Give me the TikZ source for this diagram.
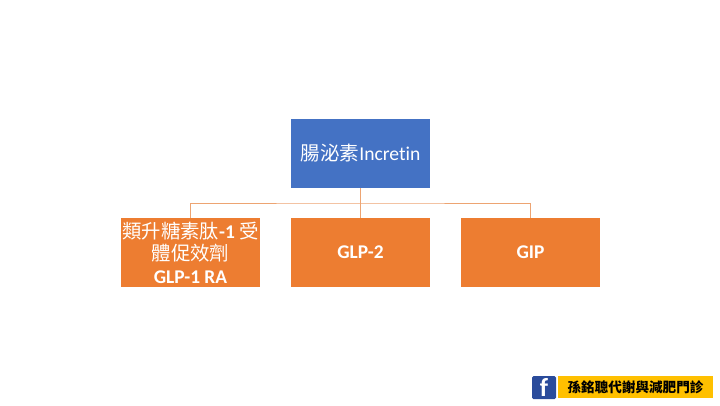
\documentclass[tikz,border=0pt]{standalone}
\usepackage{fontspec}
\setmainfont[Ligatures=NoCommon]{Carlito}
\newfontfamily\cjk{Noto Sans CJK TC}
\definecolor{blueBox}{HTML}{4472C4}
\definecolor{orangeBox}{HTML}{ED7D31}
\definecolor{linkOrange}{HTML}{EDA472}
\definecolor{fbBlue}{HTML}{2A4B9B}
\definecolor{bannerYellow}{HTML}{FFC000}
\newcommand{\lightzh}[1]{{\cjk\mdseries #1}}
\tikzset{
  topbox/.style={fill=blueBox,text=white,minimum width=139pt,minimum height=69pt,inner sep=0pt,align=center,font=\fontsize{19.6}{22}\selectfont},
  childbox/.style={fill=orangeBox,text=white,minimum width=139pt,minimum height=69pt,inner sep=0pt,align=center,font=\fontsize{19.4}{22.5}\selectfont\bfseries},
  link/.style={draw=linkOrange,line width=1pt},
}
\begin{document}
\begin{tikzpicture}[x=1pt,y=-1pt]
\useasboundingbox[fill=white] (0,0) rectangle (720,405);
\node[topbox] (top) at (360.5,153.5) {{\cjk 腸泌素}Incretin};
\node[childbox] (a) at (190.5,252.5) {\lightzh{類升糖素肽}-1 \lightzh{受}\\\lightzh{體促效劑}\\GLP-1 RA};
\node[childbox] (b) at (360.5,252.5) {GLP-2};
\node[childbox] (c) at (530.5,252.5) {GIP};
\coordinate (busy) at (360.5,203);
\draw[link] (top.south) -- (b.north);
\draw[link] (a.north) |- (busy) -| (c.north);
\node[fill=fbBlue,text=white,rounded corners=1.5pt,minimum width=24pt,minimum height=23pt,inner sep=0pt,font=\fontsize{26}{26}\selectfont\bfseries] (fb) at (544,387.5) {f};
\node[fill=bannerYellow,text=black,minimum width=155pt,minimum height=22pt,inner sep=0pt,font=\cjk\fontsize{13.6}{15}\selectfont\bfseries] (banner) at (635.5,387) {孫銘聰代謝與減肥門診};
\end{tikzpicture}
\end{document}
